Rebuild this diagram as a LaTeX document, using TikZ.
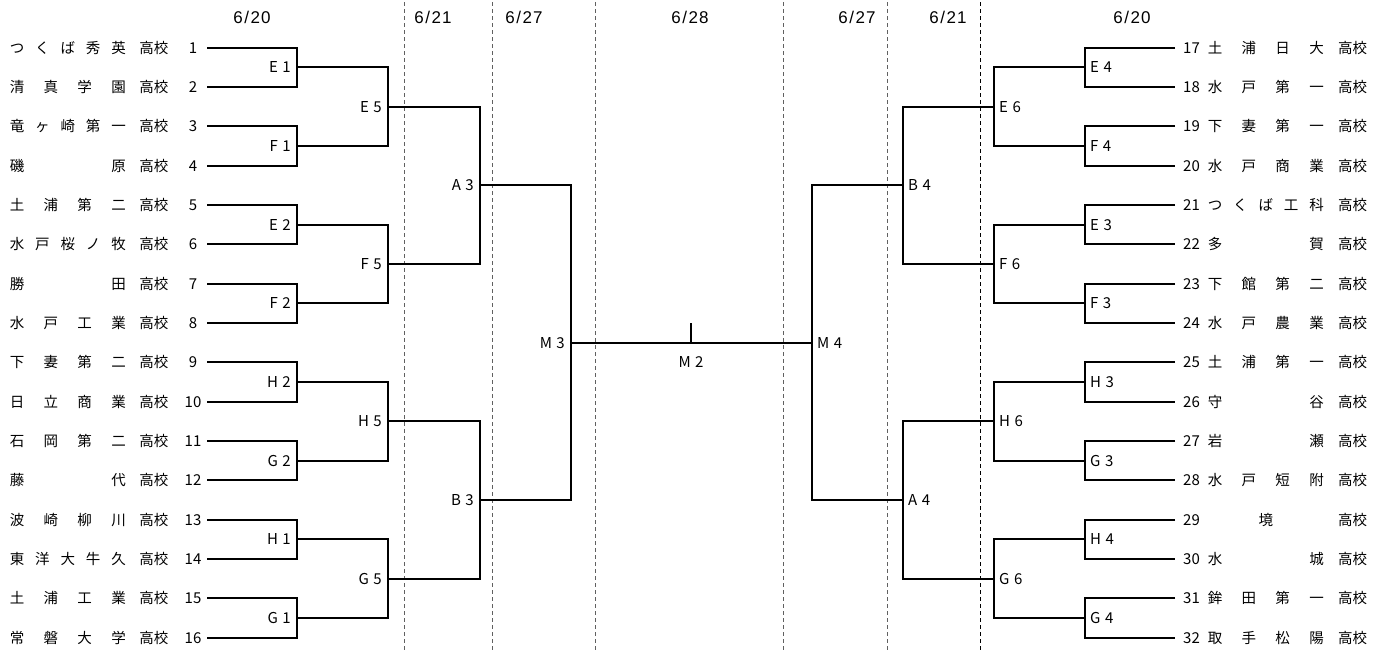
\documentclass[tikz,border=0pt]{standalone}
\usepackage{fontspec}
\newfontfamily\jpf{Noto Sans CJK JP}
\newfontfamily\dtf{Liberation Sans}
\tikzset{
  br/.style={line width=2pt},
  sepline/.style={dash pattern=on 4pt off 3pt, line width=1pt, draw=gray!75!black},
  nm/.style={font=\jpf\fontsize{14.5}{14.5}\selectfont, inner sep=0pt, anchor=base, yshift=-5.5pt},
  numl/.style={font=\jpf\fontsize{15}{15}\selectfont, inner sep=0pt, anchor=base, yshift=-5.5pt},
  numr/.style={font=\jpf\fontsize{15}{15}\selectfont, inner sep=0pt, anchor=base west, yshift=-5.5pt},
  lblL/.style={font=\jpf\fontsize{15}{15}\selectfont, inner sep=0pt, anchor=base east, xshift=-6pt, yshift=-5.5pt},
  lblR/.style={font=\jpf\fontsize{15}{15}\selectfont, inner sep=0pt, anchor=base west, xshift=5pt, yshift=-5.5pt},
  dt/.style={font=\dtf\fontsize{17}{17}\selectfont, inner sep=0pt, anchor=base},
}
\newcommand\mlab[2]{#1\hspace{4.5pt}#2}
\newcommand\teamL[3]{%
  \pgfmathsetmacro\yy{47.6+(#1-1)*39.34}%
  \pgfmathsetmacro\st{#2>1 ? 101.5/max(#2-1,1) : 0}%
  \pgfmathsetmacro\off{#2>1 ? 0 : 50.75}%
  \foreach \ch [count=\j from 0] in {#3}{\node[nm] (nL#1-\j) at ({17+\off+\j*\st},\yy) {\ch};}
  \node[nm] (kL#1) at (153.8,\yy) {高校};
  \node[numl] (numL#1) at (193,\yy) {#1};
}
\newcommand\teamR[3]{%
  \pgfmathsetmacro\yy{47.6+(#1-17)*39.34}%
  \pgfmathsetmacro\st{#2>1 ? 101.5/max(#2-1,1) : 0}%
  \pgfmathsetmacro\off{#2>1 ? 0 : 50.75}%
  \foreach \ch [count=\j from 0] in {#3}{\node[nm] (nR#1-\j) at ({1215+\off+\j*\st},\yy) {\ch};}
  \node[nm] (kR#1) at (1352.5,\yy) {高校};
  \node[numr] (numR#1) at (1183,\yy) {#1};
}
\begin{document}
\begin{tikzpicture}[x=1pt,y=-1pt]
\useasboundingbox (0,0) rectangle (1384,653);
% separators
\foreach \x in {404,492,595,783,887} {\draw[sepline] (\x,2) -- (\x,653);}
\draw[sepline, draw=black] (980.5,2) -- (980.5,653);
% dates
\node[dt] (d1) at (252,23.2) {6\kern1.5pt/\kern1.5pt2\kern1pt0};
\node[dt] (d2) at (433,23.2) {6\kern1.5pt/\kern1.5pt2\kern1pt1};
\node[dt] (d3) at (524,23.2) {6\kern1.5pt/\kern1.5pt2\kern1pt7};
\node[dt] (d4) at (690,23.2) {6\kern1.5pt/\kern1.5pt2\kern1pt8};
\node[dt] (d5) at (857,23.2) {6\kern1.5pt/\kern1.5pt2\kern1pt7};
\node[dt] (d6) at (948,23.2) {6\kern1.5pt/\kern1.5pt2\kern1pt1};
\node[dt] (d7) at (1132,23.2) {6\kern1.5pt/\kern1.5pt2\kern1pt0};
% coordinates
\foreach \i in {1,...,16} {
  \pgfmathsetmacro\y{47.6+(\i-1)*39.34}
  \coordinate (tL\i) at (207,\y);
  \coordinate (tR\i) at (1175,\y);
}
\foreach \k in {1,...,8} {
  \pgfmathsetmacro\y{47.6+(2*\k-1.5)*39.34}
  \coordinate (aL\k) at (297,\y);
  \coordinate (aR\k) at (1085,\y);
}
\foreach \k in {1,...,4} {
  \pgfmathsetmacro\y{47.6+(4*\k-2.5)*39.34}
  \coordinate (bL\k) at (388,\y);
  \coordinate (bR\k) at (994,\y);
}
\foreach \k in {1,2} {
  \pgfmathsetmacro\y{47.6+(8*\k-4.5)*39.34}
  \coordinate (cL\k) at (480,\y);
  \coordinate (cR\k) at (903,\y);
}
\coordinate (dL) at (571,342.65);
\coordinate (dR) at (812,342.65);
\coordinate (m2) at (691,342.65);
% bracket lines
\foreach \k in {1,...,8} {
  \pgfmathtruncatemacro\a{2*\k-1}\pgfmathtruncatemacro\b{2*\k}
  \draw[br] (tL\a) -| (aL\k) |- (tL\b);
  \draw[br] (tR\a) -| (aR\k) |- (tR\b);
}
\foreach \k in {1,...,4} {
  \pgfmathtruncatemacro\a{2*\k-1}\pgfmathtruncatemacro\b{2*\k}
  \draw[br] (aL\a) -| (bL\k) |- (aL\b);
  \draw[br] (aR\a) -| (bR\k) |- (aR\b);
}
\foreach \k in {1,2} {
  \pgfmathtruncatemacro\a{2*\k-1}\pgfmathtruncatemacro\b{2*\k}
  \draw[br] (bL\a) -| (cL\k) |- (bL\b);
  \draw[br] (bR\a) -| (cR\k) |- (bR\b);
}
\draw[br] (cL1) -| (dL) |- (cL2);
\draw[br] (cR1) -| (dR) |- (cR2);
\draw[br] (dL) -- (dR);
\draw[br] (m2) -- ++(0,-20);
% match labels
\foreach \k/\p/\q in {1/E/1,2/F/1,3/E/2,4/F/2,5/H/2,6/G/2,7/H/1,8/G/1} {\node[lblL] (laL\k) at (aL\k) {\mlab{\p}{\q}};}
\foreach \k/\p/\q in {1/E/4,2/F/4,3/E/3,4/F/3,5/H/3,6/G/3,7/H/4,8/G/4} {\node[lblR] (laR\k) at (aR\k) {\mlab{\p}{\q}};}
\foreach \k/\p/\q in {1/E/5,2/F/5,3/H/5,4/G/5} {\node[lblL] (lbL\k) at (bL\k) {\mlab{\p}{\q}};}
\foreach \k/\p/\q in {1/E/6,2/F/6,3/H/6,4/G/6} {\node[lblR] (lbR\k) at (bR\k) {\mlab{\p}{\q}};}
\node[lblL] (lcL1) at (cL1) {\mlab{A}{3}};
\node[lblL] (lcL2) at (cL2) {\mlab{B}{3}};
\node[lblR] (lcR1) at (cR1) {\mlab{B}{4}};
\node[lblR] (lcR2) at (cR2) {\mlab{A}{4}};
\node[lblL] (ldL) at (dL) {\mlab{M}{3}};
\node[lblR] (ldR) at (dR) {\mlab{M}{4}};
\node[font=\jpf\fontsize{15}{15}\selectfont, inner sep=0pt, anchor=base] (lm2) at (691,367.5) {\mlab{M}{2}};
% teams left
\teamL{1}{5}{つ,く,ば,秀,英}
\teamL{2}{4}{清,真,学,園}
\teamL{3}{5}{竜,ヶ,崎,第,一}
\teamL{4}{2}{磯,原}
\teamL{5}{4}{土,浦,第,二}
\teamL{6}{5}{水,戸,桜,ノ,牧}
\teamL{7}{2}{勝,田}
\teamL{8}{4}{水,戸,工,業}
\teamL{9}{4}{下,妻,第,二}
\teamL{10}{4}{日,立,商,業}
\teamL{11}{4}{石,岡,第,二}
\teamL{12}{2}{藤,代}
\teamL{13}{4}{波,崎,柳,川}
\teamL{14}{5}{東,洋,大,牛,久}
\teamL{15}{4}{土,浦,工,業}
\teamL{16}{4}{常,磐,大,学}
% teams right
\teamR{17}{4}{土,浦,日,大}
\teamR{18}{4}{水,戸,第,一}
\teamR{19}{4}{下,妻,第,一}
\teamR{20}{4}{水,戸,商,業}
\teamR{21}{5}{つ,く,ば,工,科}
\teamR{22}{2}{多,賀}
\teamR{23}{4}{下,館,第,二}
\teamR{24}{4}{水,戸,農,業}
\teamR{25}{4}{土,浦,第,一}
\teamR{26}{2}{守,谷}
\teamR{27}{2}{岩,瀬}
\teamR{28}{4}{水,戸,短,附}
\teamR{29}{1}{境}
\teamR{30}{2}{水,城}
\teamR{31}{4}{鉾,田,第,一}
\teamR{32}{4}{取,手,松,陽}
\end{tikzpicture}
\end{document}
